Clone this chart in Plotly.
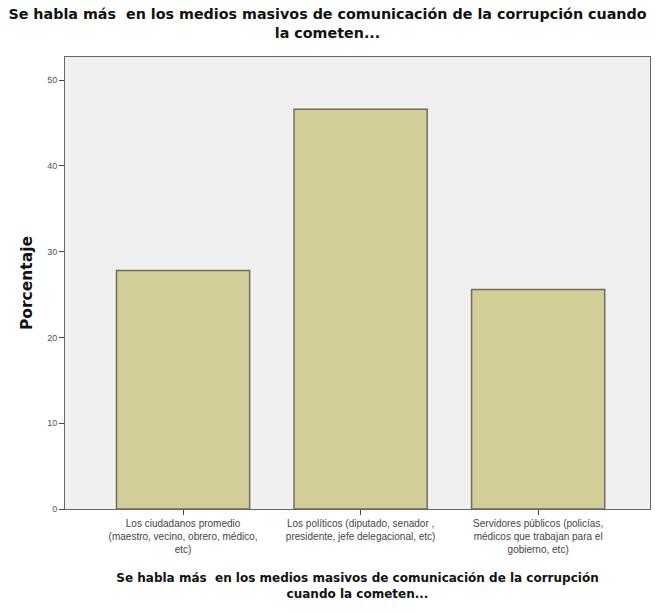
import plotly.graph_objects as go

# values (percentages)
categorias = [
    "Los ciudadanos promedio<br>(maestro, vecino, obrero, médico,<br>etc)",
    "Los políticos (diputado, senador ,<br>presidente, jefe delegacional, etc)",
    "Servidores públicos (policías,<br>médicos que trabajan para el<br>gobierno, etc)",
]
porcentajes = [27.8, 46.6, 25.6]
y_ticks = [0, 10, 20, 30, 40, 50]

titulo = ("Se habla más  en los medios masivos de comunicación de la corrupción cuando"
          "<br>la cometen...")
titulo_x = ("Se habla más  en los medios masivos de comunicación de la corrupción"
            "<br>cuando la cometen...")

FONT = "Liberation Sans"
BOLD = "DejaVu Sans"

fig = go.Figure(go.Bar(
    x=categorias,
    y=porcentajes,
    width=0.75,
    marker=dict(color="#D3CE97", line=dict(color="#6E6E5E", width=1.5)),
))

fig.update_layout(
    width=655,
    height=612,
    margin=dict(l=65, r=5, t=57, b=103),
    paper_bgcolor="white",
    plot_bgcolor="#F0F0F0",
    showlegend=False,
    font=dict(family=FONT, color="#333333"),
    title=dict(text=f"<b>{titulo}</b>", x=0.5, xanchor="center",
               y=0.969, yanchor="top",
               font=dict(family=BOLD, size=14.3, color="#111111")),
)

fig.update_xaxes(
    type="category",
    range=[-0.665, 2.63],
    showline=True, mirror=True, linecolor="#666666", linewidth=1,
    ticks="outside", ticklen=5, tickcolor="#444444",
    tickfont=dict(family=FONT, size=10, color="#444444"),
    title=dict(text=f"<b>{titulo_x}</b>", standoff=19,
               font=dict(family=BOLD, size=12, color="#111111")),
    showgrid=False,
)

fig.update_yaxes(
    range=[0, 52.7],
    tickvals=y_ticks,
    showline=True, mirror=True, linecolor="#666666", linewidth=1,
    ticks="outside", ticklen=5, tickcolor="#444444",
    tickfont=dict(family=FONT, size=9, color="#555555"),
    title=dict(text="<b>Porcentaje</b>", standoff=10,
               font=dict(family=BOLD, size=15.5, color="#111111")),
    showgrid=False, zeroline=False,
)

fig.write_html("out.html", config={"displayModeBar": False},
               post_script="document.body.style.margin='0';")
